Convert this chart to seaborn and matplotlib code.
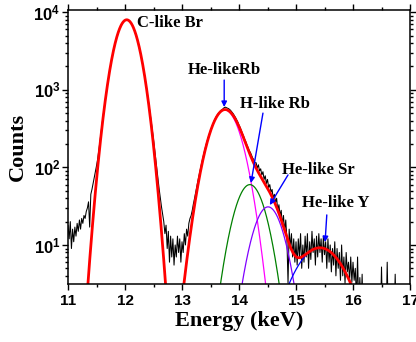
import numpy as np
import pandas as pd
import matplotlib
matplotlib.use("Agg")
import matplotlib.pyplot as plt
import seaborn as sns
from matplotlib.ticker import FixedLocator, FixedFormatter, NullFormatter

# ---------------- data ----------------
# measured spectrum, 0.02 keV channels from 11.00 to 16.80 keV
counts_a = [18, 12, 20, 9, 16, 11, 17, 13, 19, 15, 21, 16, 22, 19, 24, 22, 27, 30, 36, 17]
counts_b = [45, 52, 62, 75, 88, 105, 128, 165, 215, 285,
            375, 485, 625, 800, 1010, 1270, 1575, 1930, 2330, 2780,
            3270, 3800, 4350, 4900, 5460, 6010, 6520, 6970, 7360, 7660,
            7870, 7980, 7980, 7880, 7670, 7360, 6980, 6520, 6010, 5470,
            4910, 4350, 3800, 3270, 2790, 2340, 1940, 1590, 1285, 1030,
            815, 640, 500, 390, 300, 230, 170, 128, 95, 70,
            52, 40, 31, 25]
counts_c = [20, 14, 18, 9, 15, 6, 13, 7, 12, 5.5,
            10, 7, 13, 8, 12, 6, 11, 8, 14, 10,
            16, 13, 19, 22]
counts_d = [24, 28, 34, 40, 48, 58, 68, 80, 94, 110,
            128, 148, 170, 194, 218, 244, 272, 300, 330, 360,
            392, 420, 450, 476, 500, 520, 540, 555, 570, 590,
            598, 588, 580, 570, 555, 535, 512, 490, 463, 438,
            410, 383, 350, 328, 300, 274, 254, 230, 214, 194,
            180, 164, 156, 144, 132, 126, 114]
counts_e = [115, 98, 108, 90, 96, 80, 88, 70, 78, 62,
            70, 55, 60, 48, 52, 40, 45, 35, 40, 28,
            33, 24, 28, 18, 24, 15, 21, 12, 3.2, 16,
            9, 14, 7, 12, 6, 11, 5.5, 12, 7, 14,
            5, 10, 6, 13, 7, 14, 5, 11, 6.5, 15,
            8, 12, 5.5, 13, 7, 14, 8, 12, 6, 13,
            7.5, 11, 5, 12, 6, 10, 4.5, 9, 5.5, 11,
            4, 9, 5, 8, 3.5, 10, 4, 7, 3.2, 8,
            4.5, 6, 3.5, 7, 3.3, 6, 3.5, 5, 2, 7,
            1.5, 3.8, 1.5, 4.2, 1, 1]
counts_f = [1, 1, 1, 1, 1, 1, 1, 1, 1, 1, 1, 1, 1, 1, 5.2,
            1, 1, 1, 1, 6, 1, 1, 1, 1, 1, 1, 4.2, 1, 1, 1]
counts = counts_a + counts_b + counts_c + counts_d + counts_e + counts_f
energy_start, energy_stop = 11.0, 16.8

# Gaussian fit components
peak_names = ["C-like Br", "He-likeRb", "H-like Rb", "He-like Sr", "He-like Y"]
peak_centers = [12.03, 13.75, 14.19, 14.51, 15.42]
peak_heights = [8000, 550, 60, 31, 9.2]
peak_sigmas = [0.172, 0.223, 0.212, 0.213, 0.37]

x_ticks = [11, 12, 13, 14, 15, 16, 17]
x_tick_labels = ["11", "12", "13", "14", "15", "16", "17"]
y_ticks = [10, 100, 1000, 10000]
y_tick_labels = [r"$\mathbf{10^{1}}$", r"$\mathbf{10^{2}}$", r"$\mathbf{10^{3}}$", r"$\mathbf{10^{4}}$"]

# ---------------- style ----------------
sns.set_style("ticks")
plt.rcParams["font.family"] = ["Liberation Serif", "DejaVu Serif"]
plt.rcParams["mathtext.fontset"] = "custom"
plt.rcParams["mathtext.rm"] = "Liberation Sans:bold"
plt.rcParams["mathtext.bf"] = "Liberation Sans:bold"
plt.rcParams["mathtext.it"] = "Liberation Sans:bold"
for key in ["text.color", "axes.labelcolor", "xtick.color", "ytick.color", "axes.edgecolor"]:
    plt.rcParams[key] = "black"

fig = plt.figure(figsize=(4.16, 3.42), dpi=100)
ax = fig.add_axes([0.1635, 0.1696, 0.9856 - 0.1635, 0.9708 - 0.1696])
ax.set_yscale("log")

energy = np.linspace(energy_start, energy_stop, len(counts))
spec = pd.DataFrame({"Energy": energy, "Counts": counts})
sns.lineplot(data=spec, x="Energy", y="Counts", ax=ax, color="black", lw=0.75,
             estimator=None, sort=False)

grid = np.linspace(11.0, 16.8, 1200)
def gauss(i):
    return peak_heights[i] * np.exp(-(grid - peak_centers[i]) ** 2 / (2 * peak_sigmas[i] ** 2))

comp_colors = {1: "#ff00ff", 2: "#008000", 3: "#8000ff", 4: "#0000ff"}
for i, c in comp_colors.items():
    sns.lineplot(x=grid, y=gauss(i), ax=ax, color=c, lw=0.9, estimator=None, sort=False)
total = sum(gauss(i) for i in range(len(peak_names)))
sns.lineplot(x=grid, y=total, ax=ax, color="#ff0000", lw=2.0, estimator=None, sort=False)

ax.set_xlim(11, 17)
ax.set_ylim(3.14, 10700)

# labels and arrows
label_pos = [(12.79, 7240), (13.75, 1800), (14.63, 656), (15.40, 92), (15.69, 34.8)]
for name, (lx, ly) in zip(peak_names, label_pos):
    ax.text(lx, ly, name, ha="center", va="center", fontsize=12, fontweight="bold",
            family=["Liberation Serif"], color="black")
arrows = [((13.74, 1337), (13.74, 600)),
          ((14.42, 501), (14.21, 63)),
          ((14.86, 80), (14.54, 32.7)),
          ((15.54, 24.4), (15.51, 10.9))]
for (sx, sy), (tx, ty) in arrows:
    ax.annotate("", xy=(tx, ty), xytext=(sx, sy),
                arrowprops=dict(arrowstyle="-|>", color="#0000ff", lw=1.0,
                                mutation_scale=8, shrinkA=0, shrinkB=0))

# ticks
ax.xaxis.set_major_locator(FixedLocator(x_ticks))
ax.xaxis.set_major_formatter(FixedFormatter(x_tick_labels))
ax.xaxis.set_minor_locator(FixedLocator(np.arange(11.5, 17, 1.0)))
ax.yaxis.set_major_locator(FixedLocator(y_ticks))
ax.yaxis.set_major_formatter(FixedFormatter(y_tick_labels))
minor_y = [m * 10 ** e for e in range(0, 5) for m in range(2, 10)]
ax.yaxis.set_minor_locator(FixedLocator(minor_y))
ax.yaxis.set_minor_formatter(NullFormatter())
ax.tick_params(which="both", direction="out", top=True, right=True, width=1.0, colors="black")
ax.tick_params(which="major", length=4)
ax.tick_params(which="minor", length=2.5)
ax.tick_params(axis="y", which="major", labelsize=12, pad=1.5)
for lab in ax.get_xticklabels():
    lab.set_family(["Liberation Sans"])
    lab.set_fontweight("bold")
    lab.set_fontsize(11)
for sp in ax.spines.values():
    sp.set_linewidth(1.1)
    sp.set_color("black")

ax.set_xlabel("Energy (keV)", fontsize=16, fontweight="bold", labelpad=2, color="black")
ax.set_ylabel("Counts", fontsize=16, fontweight="bold", labelpad=4, color="black")

fig.savefig("out.png", dpi=100)
